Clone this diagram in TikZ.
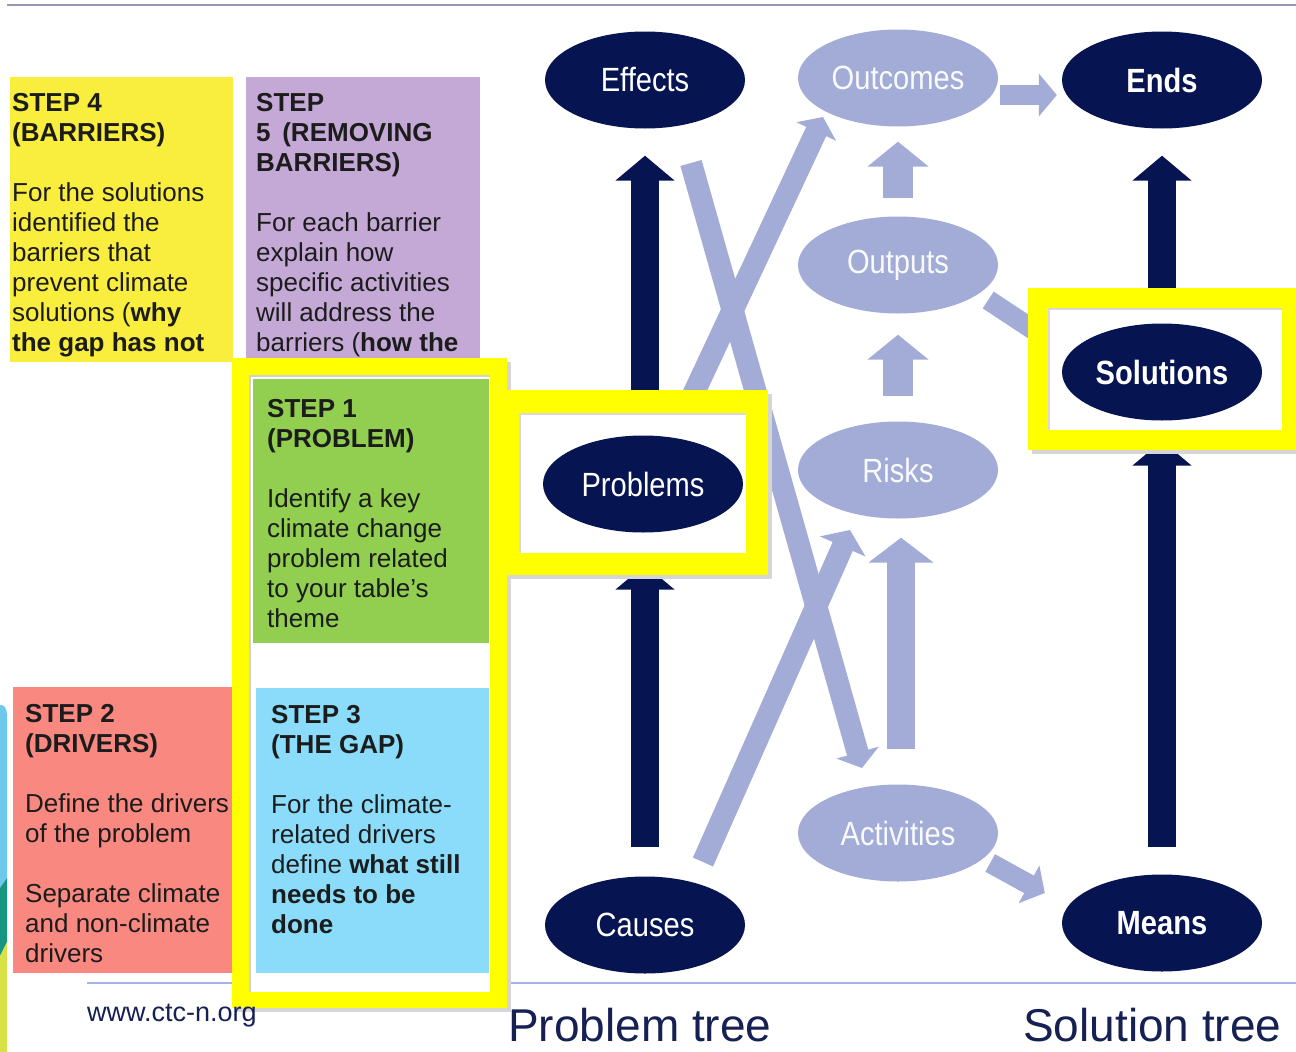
\documentclass[tikz,border=0pt]{standalone}
\usepackage{fontspec}
\setmainfont{Liberation Sans}
\usetikzlibrary{shapes.geometric,arrows.meta,calc}
\pgfdeclarelayer{paper}
\pgfdeclarelayer{background}
\pgfsetlayers{paper,background,main}

\definecolor{navy}{RGB}{6,20,82}
\definecolor{periw}{RGB}{162,172,214}
\definecolor{hiyellow}{RGB}{255,255,0}
\definecolor{stepyellow}{RGB}{249,238,62}
\definecolor{steppurple}{RGB}{196,168,214}
\definecolor{stepgreen}{RGB}{146,206,80}
\definecolor{stepblue}{RGB}{138,220,250}
\definecolor{stepred}{RGB}{248,136,128}
\definecolor{inktext}{RGB}{28,28,28}
\definecolor{ruleblue}{RGB}{165,178,235}
\definecolor{rulegray}{RGB}{150,150,182}
\definecolor{titlenavy}{RGB}{22,32,82}
\definecolor{stripeblue}{RGB}{110,200,235}
\definecolor{stripeteal}{RGB}{22,150,130}
\definecolor{stripelime}{RGB}{215,225,70}

% oval labels are set slightly taller than the plain font
\newcommand{\tallword}[1]{\scalebox{0.97}[1.12]{#1}}

\tikzset{
  darkoval/.style={ellipse, fill=navy, minimum width=200pt, minimum height=97pt,
    inner sep=0pt, text=white, font=\fontsize{30}{36}\selectfont},
  lightoval/.style={darkoval, fill=periw, text=white!94!periw},
  stepbody/.style={anchor=north west, inner sep=0pt, align=left, text=inktext,
    font=\fontsize{26}{30}\selectfont},
  darkarrow/.style={draw=navy, line width=28pt, -{Triangle[length=25pt,width=58pt]}},
  lightarrow/.style={draw=periw, line width=30pt, -{Triangle[length=25pt,width=60pt]}},
  band/.style={draw=periw, line width=22pt, -{Triangle[length=17pt,width=45pt]}},
  smallband/.style={draw=periw, line width=20pt, -{Triangle[length=18pt,width=42pt]}},
  hiframe/.style={fill=hiyellow},
  frameshadow/.style={fill=black!16},
  footer/.style={anchor=base west, inner sep=0pt, text depth=0pt, text=titlenavy},
}

\begin{document}
\begin{tikzpicture}[x=1pt,y=-1pt]
\useasboundingbox (0,0) rectangle (1296,1052);
\begin{pgfonlayer}{paper}
  \fill[white] (0,0) rectangle (1296,1052);
\end{pgfonlayer}

% rules at top and bottom
\draw[rulegray, line width=2.5pt] (7,5) -- (1296,5);
\draw[ruleblue, line width=2pt] (87,983) -- (1296,983);

% coloured strip at the left edge
\fill[stripeblue] (0,705) -- (2,705) .. controls (7,707) and (7,712) .. (7,720) -- (7,878) -- (0,888) -- cycle;
\fill[stripeteal] (0,888) -- (7,878) -- (7,942) -- (0,956) -- cycle;
\fill[stripelime] (0,956) -- (7,942) -- (7,1052) -- (0,1052) -- cycle;

% step 4 and step 5 cards
\fill[stepyellow] (10,77) rectangle (233,362);
\node[stepbody] (step4) at (12,93)
  {\textbf{STEP 4}\\ \textbf{(BARRIERS)}\\[30pt]
   For the solutions\\ identified the\\ barriers that\\ prevent climate\\
   solutions (\textbf{why}\\ \textbf{the gap has not}};
\fill[steppurple] (246,77) rectangle (480,360);
\node[stepbody] (step5) at (256,93)
  {\textbf{STEP}\\ \textbf{5\hspace{0.45em}(REMOVING}\\ \textbf{BARRIERS)}\\[30pt]
   For each barrier\\ explain how\\ specific activities\\ will address the\\
   barriers (\textbf{how the}};

% step 2 card
\fill[stepred] (13,687) rectangle (240,973);
\node[stepbody] (step2) at (25,704)
  {\textbf{STEP 2}\\ \textbf{(DRIVERS)}\\[30pt]
   Define the drivers\\ of the problem\\[30pt]
   Separate climate\\ and non-climate\\ drivers};

% highlighted column with steps 1 and 3
\fill[frameshadow] (236,362) rectangle (511,1012);
\fill[hiframe] (232,358) rectangle (507,1008);
\fill[white] (249,375) rectangle (490,992);
\draw[black!18, line width=2pt] (250,992) -- (250,376) -- (490,376);
\fill[stepgreen] (253,379) rectangle (489,643);
\node[stepbody] (step1) at (267,399)
  {\textbf{STEP 1}\\ \textbf{(PROBLEM)}\\[30pt]
   Identify a key\\ climate change\\ problem related\\ to your table’s\\ theme};
\fill[stepblue] (256,688) rectangle (489,973);
\node[stepbody] (step3) at (271,705)
  {\textbf{STEP 3}\\ \textbf{(THE GAP)}\\[30pt]
   For the climate-\\ related drivers\\ define \textbf{what still}\\
   \textbf{needs to be}\\ \textbf{done}};

% highlight frames round Problems and Solutions
\fill[frameshadow] (511,394) rectangle (772,579);
\fill[hiframe] (507,390) rectangle (768,575);
\fill[white] (519,413) rectangle (746,553);
\draw[black!15, line width=1.5pt] (520,553) -- (520,414) -- (746,414);
\fill[frameshadow] (1032,292) rectangle (1300,454);
\fill[hiframe] (1028,288) rectangle (1300,450);
\fill[white] (1048,308) rectangle (1282,430);
\draw[black!15, line width=1.5pt] (1049,430) -- (1049,309) -- (1282,309);

% problem tree
\node[darkoval] (effects)  at (645,80)  {\tallword{Effects}};
\node[darkoval] (problems) at (643,484) {\tallword{Problems}};
\node[darkoval] (causes)   at (645,925) {\tallword{Causes}};

% middle column
\node[lightoval] (outcomes)   at (898,78)  {\tallword{Outcomes}};
\node[lightoval] (outputs)    at (898,265) {\tallword{Outputs}};
\node[lightoval] (risks)      at (898,470) {\tallword{Risks}};
\node[lightoval] (activities) at (898,833) {\tallword{Activities}};

% solution tree
\node[darkoval] (ends)      at (1162,80)  {\tallword{\textbf{Ends}}};
\node[darkoval] (solutions) at (1162,372) {\tallword{\textbf{Solutions}}};
\node[darkoval] (means)     at (1162,923) {\tallword{\textbf{Means}}};

\begin{pgfonlayer}{background}
  % problem tree and solution tree arrows
  \draw[darkarrow] ($(causes.north)+(0,-29)$) -- ($(problems.south)+(2,32)$);
  \draw[darkarrow] ($(problems.north)+(2,-23)$) -- ($(effects.south)+(0,27)$);
  \draw[darkarrow] ($(means.north)+(0,-27)$) -- ($(solutions.south)+(0,20)$);
  \draw[darkarrow] ($(solutions.north)+(0,-33)$) -- ($(ends.south)+(0,27)$);
  % middle column arrows
  \draw[lightarrow] ($(outputs.north)+(0,-18)$) -- ($(outcomes.south)+(0,15)$);
  \draw[lightarrow] ($(risks.north)+(0,-25)$) -- ($(outputs.south)+(0,21)$);
  \draw[lightarrow, line width=28pt, -{Triangle[length=25pt,width=64pt]}]
    ($(activities.north)+(3,-35)$) -- ($(risks.south)+(3,19)$);
  \draw[smallband] ($(outcomes.east)+(2,17)$) -- ($(ends.west)+(-5,15)$);
  \draw[periw, line width=20pt] ($(outputs.east)+(-10,35)$) -- ($(solutions.west)+(-10,-30)$);
  \draw[smallband] ($(activities.east)+(-8,30)$) -- ($(means.west)+(-17,-30)$);
  % crossing links between the trees
  \draw[band, -{Triangle[length=16pt,width=43pt]}]
    ($(effects.center)+(46,83)$) -- ($(activities.center)+(-36,-65)$);
  \draw[band, -{Triangle[length=16pt,width=43pt]}]
    ($(problems.center)+(42,-72)$) -- ($(outcomes.center)+(-75,39)$);
  \draw[band, -{Triangle[length=18pt,width=49pt]}]
    ($(causes.center)+(58,-63)$) -- ($(risks.center)+(-48,60)$);
\end{pgfonlayer}

% footer texts
\node[footer, font=\fontsize{27}{32}\selectfont] (site) at (87,1021) {www.ctc-n.org};
\node[footer, font=\fontsize{46}{52}\selectfont] (ptree) at (508,1041) {Problem tree};
\node[footer, font=\fontsize{46}{52}\selectfont] (stree) at (1023,1041) {Solution tree};
\end{tikzpicture}
\end{document}
